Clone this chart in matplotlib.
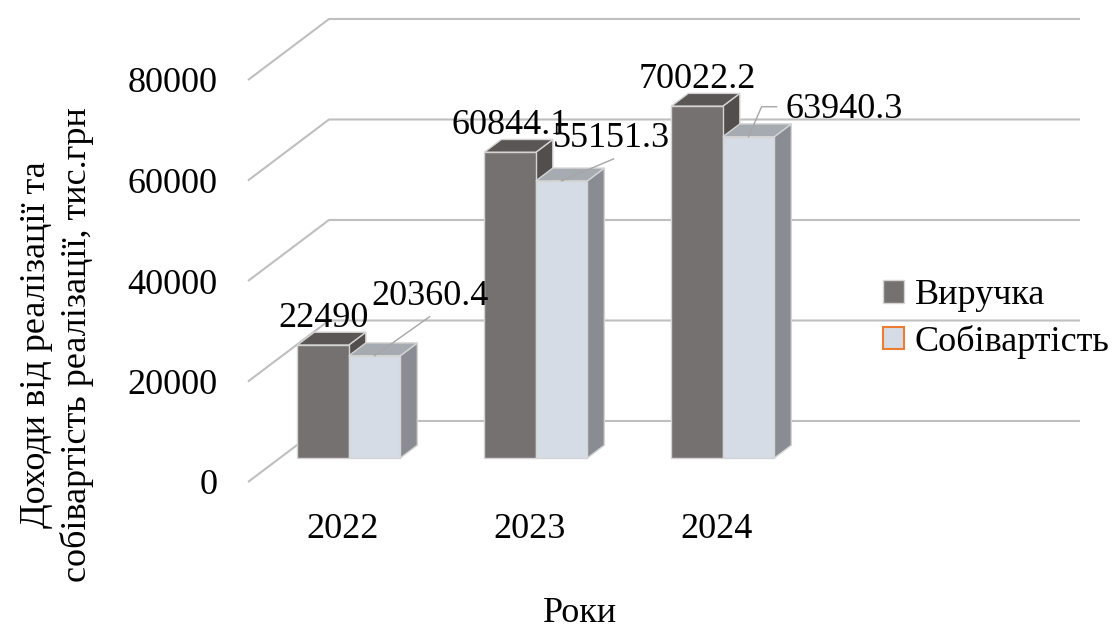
import numpy as np
import matplotlib
matplotlib.use("Agg")
import matplotlib.pyplot as plt
import matplotlib.transforms as mtransforms
from matplotlib.patches import Polygon, Patch

plt.rcParams['font.family'] = ['Liberation Serif', 'DejaVu Serif']

years = ['2022', '2023', '2024']
revenue = [22490, 60844.1, 70022.2]       # Виручка
cost = [20360.4, 55151.3, 63940.3]        # Собівартість
series_names = ['Виручка', 'Собівартість']
y_ticks = [0, 20000, 40000, 60000, 80000]

FS = 26
GRID = '#BFBFBF'
face_colors = [
    # front, top, side
    ('#767171', '#5A5655', '#524E4D'),
    ('#D6DCE5', '#A6AAB1', '#898D93'),
]

# pseudo-3d floor: shift of the back wall, in data units
DX = 0.433
DV = 12140
D_FRONT, D_BACK = 0.393, 0.603
BAR_W = 0.2754
LABEL_SHIFT = 0.139

fig = plt.figure(figsize=(11.12, 6.30), dpi=100)
ax = fig.add_axes([248 / 1112, 148 / 630, 751 / 1112, 402 / 630])
ax.set_xlim(-0.369, 3.647)
ax.set_ylim(0, 80000)
for s in ax.spines.values():
    s.set_visible(False)
ax.patch.set_alpha(0)


def pt(x, v, d):
    return (x + d * DX, v + d * DV)


# back wall gridlines with the oblique floor edge
x0, x1 = ax.get_xlim()
for t in y_ticks:
    xs, vs = zip(pt(x0, t, 0), pt(x0, t, 1), pt(x1, t, 1))
    ax.plot(xs, vs, color=GRID, lw=1.5, clip_on=False, zorder=1,
            solid_capstyle='butt')

ax.set_yticks(y_ticks)
ax.set_yticklabels([str(t) for t in y_ticks], fontsize=FS)
ax.set_xticks(np.arange(len(years)) + LABEL_SHIFT)
ax.set_xticklabels(years, fontsize=FS)
ax.tick_params(length=0, pad=22)


def draw_bar(xl, v, cols, z):
    xr = xl + BAR_W
    front = [pt(xl, 0, D_FRONT), pt(xr, 0, D_FRONT), pt(xr, v, D_FRONT), pt(xl, v, D_FRONT)]
    top = [pt(xl, v, D_FRONT), pt(xr, v, D_FRONT), pt(xr, v, D_BACK), pt(xl, v, D_BACK)]
    side = [pt(xr, 0, D_FRONT), pt(xr, 0, D_BACK), pt(xr, v, D_BACK), pt(xr, v, D_FRONT)]
    for verts, c in ((side, cols[2]), (top, cols[1]), (front, cols[0])):
        ax.add_patch(Polygon(verts, closed=True, facecolor=c, edgecolor='#D4D4D4',
                             lw=1.0, clip_on=False, zorder=z))


# Собівартість labels are moved off the bar and tied back with a leader line
cost_offsets = [(55, 51), (50, 34), (96, 19)]
cost_leaders = [[(0, 0), (55, 39)], [(0, 0), (52, 22)], [(0, 0), (13, 30), (28, 30)]]

for i in range(len(years)):
    for k, vals in enumerate((revenue, cost)):
        xl = i - BAR_W + k * BAR_W
        v = vals[i]
        draw_bar(xl, v, face_colors[k], 3 + i * 2 + k)
        anchor = pt(xl + BAR_W / 2, v, D_FRONT)
        if k == 0:
            ax.annotate(f"{v:g}", xy=anchor, xytext=(0, 18), textcoords='offset pixels',
                        ha='center', va='baseline', fontsize=FS, zorder=20,
                        annotation_clip=False)
        else:
            ax.annotate(f"{v:g}", xy=anchor, xytext=cost_offsets[i],
                        textcoords='offset pixels', ha='center', va='baseline',
                        fontsize=FS, zorder=21, annotation_clip=False)
            ox, oy = ax.transData.transform(anchor)
            lx, ly = zip(*cost_leaders[i])
            ax.plot(lx, ly, color='#A6A6A6', lw=1.0, zorder=15, clip_on=False,
                    transform=mtransforms.Affine2D().translate(ox, oy))

handles = [Patch(facecolor=face_colors[0][0], edgecolor='#D4D4D4', lw=1.0),
           Patch(facecolor=face_colors[1][0], edgecolor='#ED7D31', lw=1.5)]
fig.legend(handles, series_names, loc='center left',
           bbox_to_anchor=(883 / 1112, 1 - 319 / 630), frameon=False, fontsize=FS,
           handlelength=0.58, handleheight=0.58, handletextpad=0.3,
           labelspacing=0.35, borderpad=0, borderaxespad=0)

fig.text(580 / 1112, 1 - 613 / 630, 'Роки', fontsize=FS, ha='center', va='center')
fig.text(57 / 1112, 1 - 345 / 630,
         'Доходи від реалізації та\nсобівартість реалізації, тис.грн',
         fontsize=FS, rotation=90, ha='center', va='center', linespacing=1.28)

fig.savefig('out.png', dpi=100)
